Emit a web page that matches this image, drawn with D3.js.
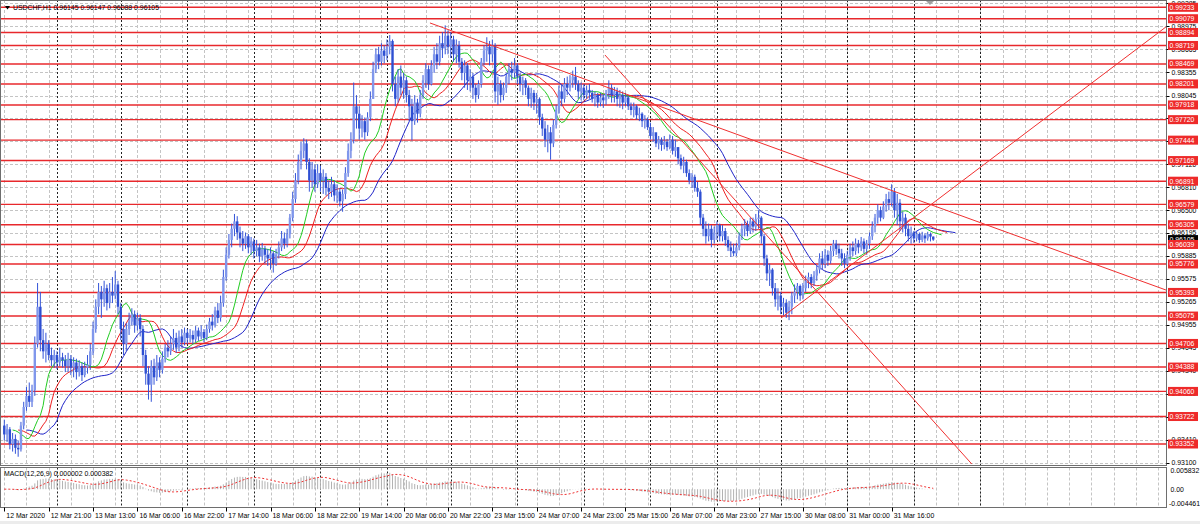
<!DOCTYPE html>
<html><head><meta charset="utf-8">
<script src="https://cdn.jsdelivr.net/npm/d3@7"></script>
<style>html,body{margin:0;padding:0;background:#fff;overflow:hidden}svg{display:block;font-family:"Liberation Sans",Arial,sans-serif}</style>
</head><body>
<svg id="c" width="1200" height="524"></svg>
<script>
// ---------- DATA (prices are quoted ×10 000, e.g. 9348 = 0.93480) ----------
const symbolTitle = "USDCHF,H1";
const lastOHLC = ["0.96145", "0.96147", "0.96088", "0.96105"];
const lastPrice = 9610.5;
const macdTitle = "MACD(12,26,9) 0.000002 0.000382";

const timeLabels = ["12 Mar 2020","12 Mar 21:00","13 Mar 13:00","16 Mar 06:00","16 Mar 22:00","17 Mar 14:00",
  "18 Mar 06:00","18 Mar 22:00","19 Mar 14:00","20 Mar 06:00","20 Mar 22:00","23 Mar 15:00","24 Mar 07:00",
  "24 Mar 23:00","25 Mar 15:00","26 Mar 07:00","26 Mar 23:00","27 Mar 15:00","30 Mar 08:00","31 Mar 00:00","31 Mar 16:00"];
const barsPerLabel = 16;
const daySeparatorBars = [19, 42, 66, 90, 114, 138, 161, 185, 209, 233, 257, 280, 304, 328, 352];

const priceTicks = ["0.93100","0.93410","0.93720","0.94030","0.94340","0.94645","0.94955","0.95265","0.95575",
  "0.95885","0.96195","0.96500","0.96810","0.97120","0.97430","0.97740","0.98045","0.98355","0.98665","0.98975","0.99285"];
const levelLabels = ["0.99233","0.99079","0.98894","0.98719","0.98469","0.98201","0.97918","0.97720","0.97444",
  "0.97169","0.96891","0.96579","0.96305","0.96039","0.95776","0.95393","0.95075","0.94706","0.94388","0.94060",
  "0.93722","0.93352"];
const macdTicks = ["0.005832", "0.00", "-0.004461"];

// trend lines: [bar, price, bar, price]
const trendLines = [
  [153.5, 9902.2, 418.9, 9542.6],
  [216.6, 9859.1, 348.9, 9308.2],
  [280.1, 9504.9, 418.9, 9896.8]
];

const opens = [
9360,9348,9355,9335,9342,9330,9328,9360,9385,9400,
9392,9408,9470,9520,9475,9460,9470,9455,9448,9455,
9445,9452,9448,9440,9450,9438,9445,9432,9440,9428,
9438,9442,9460,9490,9520,9540,9530,9545,9525,9540,
9535,9550,9520,9490,9470,9490,9500,9510,9495,9505,
9490,9455,9430,9415,9440,9425,9445,9435,9450,9465,
9460,9470,9478,9465,9480,9472,9485,9478,9482,9476,
9488,9480,9486,9478,9490,9500,9495,9515,9505,9525,
9560,9590,9610,9625,9635,9620,9612,9605,9615,
9600,9608,9595,9600,9588,9598,9590,9585,9592,9578,
9590,9600,9612,9605,9618,9640,9665,9690,9715,9730,
9740,9715,9690,9705,9685,9700,9690,9695,9680,9675,
9685,9670,9675,9662,9672,9700,9730,9745,9790,9780,
9760,9770,9755,9775,9800,9840,9860,9850,9865,9858,
9870,9878,9820,9800,9830,9815,9825,9805,9790,9770,
9795,9780,9805,9825,9840,9820,9845,9860,9850,9875,
9868,9885,9870,9880,9860,9872,9850,9835,9845,9825,
9830,9815,9805,9820,9850,9865,9870,9860,9872,9810,
9820,9805,9815,9830,9840,9835,9845,9830,9820,
9825,9815,9800,9808,9795,9800,9775,9760,9745,9755,
9740,9765,9785,9810,9800,9820,9815,9825,9830,9820,
9810,9815,9805,9812,9808,9800,9805,9795,9802,9798,
9808,9815,9805,9810,9800,9805,9795,9802,9790,9785,
9790,9778,9780,9770,9772,9762,9750,9755,9740,9745,
9738,9742,9735,9745,9730,9735,9720,9710,9715,9700,
9690,9695,9680,9675,9640,9625,9615,9625,9610,9620,
9630,9615,9622,9610,9600,9595,9592,9600,9615,9625,
9630,9622,9635,9628,9638,9640,9615,9585,9565,9570,
9545,9530,9535,9520,9525,9512,9520,9535,9540,9548,
9535,9545,9555,9560,9552,9562,9570,9585,9578,
9590,9582,9595,9605,9598,9592,9585,9578,9590,9600,
9595,9605,9600,9608,9598,9605,9615,9628,9640,9650,
9640,9655,9665,9660,9675,9650,9660,9635,9640,9625,
9615,9620,9612,9618,9610,9616,9612,9618,9614.5];

const highs = [
9368,9362,9358,9350,9348,9340,9365,9392,9412,9418,
9415,9480,9552,9540,9490,9485,9475,9465,9462,9460,
9465,9458,9455,9458,9455,9452,9450,9448,9445,9446,
9455,9470,9500,9530,9552,9548,9555,9550,9552,9560,
9568,9555,9525,9500,9498,9512,9518,9515,9512,9510,
9495,9462,9440,9448,9450,9455,9452,9460,9470,9475,
9480,9490,9485,9488,9490,9492,9490,9490,9488,9494,
9492,9495,9490,9496,9505,9510,9520,9525,9535,9570,
9600,9618,9632,9645,9642,9628,9622,9620,9618,
9614,9612,9610,9605,9606,9602,9598,9600,9595,9598,
9608,9622,9620,9625,9645,9675,9700,9725,9742,9747,
9745,9720,9715,9712,9712,9710,9705,9700,9690,9695,
9690,9685,9680,9678,9708,9740,9755,9822,9805,9790,
9778,9775,9782,9810,9850,9868,9870,9875,9872,9880,
9886,9880,9830,9840,9845,9835,9830,9812,9800,9805,
9800,9812,9832,9848,9845,9852,9870,9875,9885,9890,
9899,9892,9890,9885,9880,9878,9855,9852,9848,9840,
9835,9820,9825,9855,9872,9883,9878,9880,9875,9830,
9825,9822,9835,9848,9850,9855,9848,9835,9830,
9828,9818,9815,9812,9808,9802,9780,9770,9765,9762,
9772,9792,9818,9820,9828,9830,9832,9838,9843,9825,
9822,9820,9818,9820,9812,9810,9808,9808,9806,9812,
9825,9820,9816,9815,9812,9810,9808,9805,9795,9795,
9792,9788,9782,9778,9775,9768,9762,9752,9750,9748,
9750,9746,9752,9750,9745,9735,9725,9722,9718,9705,
9700,9698,9688,9678,9645,9635,9632,9630,9628,9635,
9632,9630,9626,9615,9608,9605,9606,9620,9632,9638,
9636,9640,9640,9645,9650,9642,9618,9590,9578,9572,
9552,9545,9540,9532,9530,9528,9540,9550,9552,9550,
9552,9562,9566,9564,9568,9575,9592,9595,9598,
9596,9602,9610,9610,9605,9598,9592,9595,9605,9608,
9612,9610,9614,9612,9610,9620,9635,9645,9658,9655,
9662,9672,9675,9685,9680,9672,9665,9648,9645,9632,
9628,9622,9622,9620,9621,9619,9621,9620,9614.7];

const lows = [
9340,9338,9328,9325,9322,9318,9325,9355,9380,9385,
9385,9400,9465,9460,9450,9445,9448,9440,9438,9436,
9440,9438,9432,9432,9428,9425,9422,9426,9420,9425,
9430,9435,9455,9485,9510,9505,9520,9515,9518,9525,
9530,9510,9475,9455,9460,9482,9495,9485,9488,9480,
9440,9415,9395,9392,9415,9420,9425,9430,9445,9452,
9455,9462,9458,9460,9465,9468,9470,9472,9470,9472,
9474,9476,9472,9475,9485,9488,9492,9498,9500,9520,
9555,9585,9600,9615,9610,9600,9595,9598,9592,
9590,9585,9588,9580,9582,9578,9575,9570,9566,9575,
9585,9595,9598,9600,9612,9635,9660,9685,9705,9720,
9705,9675,9680,9675,9680,9675,9672,9670,9665,9668,
9662,9660,9655,9648,9665,9695,9720,9740,9760,9745,
9748,9745,9750,9770,9800,9835,9840,9845,9848,9852,
9860,9810,9790,9795,9805,9800,9795,9770,9744,9765,
9768,9775,9800,9815,9812,9818,9835,9840,9845,9855,
9860,9860,9855,9850,9848,9842,9825,9815,9812,9810,
9800,9795,9800,9815,9845,9850,9845,9850,9795,9792,
9795,9798,9808,9820,9825,9828,9820,9810,9805,
9805,9790,9788,9785,9780,9765,9750,9735,9728,9718,
9735,9760,9780,9790,9795,9805,9810,9815,9812,9800,
9798,9798,9800,9800,9795,9790,9788,9790,9788,9792,
9800,9795,9795,9790,9788,9786,9790,9785,9778,9775,
9772,9770,9762,9760,9758,9745,9742,9735,9732,9730,
9732,9730,9732,9725,9722,9712,9705,9700,9695,9685,
9680,9675,9668,9630,9615,9605,9608,9600,9605,9610,
9608,9608,9602,9595,9587,9588,9588,9596,9610,9615,
9615,9618,9620,9622,9625,9605,9575,9555,9548,9535,
9520,9515,9510,9508,9505,9502,9510,9525,9530,9528,
9530,9540,9545,9545,9548,9555,9565,9570,9572,
9575,9578,9588,9590,9585,9575,9572,9575,9582,9588,
9590,9592,9595,9592,9590,9598,9610,9620,9632,9635,
9638,9648,9650,9655,9640,9630,9622,9620,9615,9608,
9605,9606,9608,9606,9607,9606,9609,9608,9608.8];

const closes = [
9348,9355,9335,9342,9330,9328,9360,9385,9400,9392,
9408,9470,9520,9475,9460,9470,9455,9448,9455,9445,
9452,9448,9440,9450,9438,9445,9432,9440,9428,9438,
9442,9460,9490,9520,9540,9530,9545,9525,9540,9535,
9550,9520,9490,9470,9490,9500,9510,9495,9505,9490,
9455,9430,9415,9440,9425,9445,9435,9450,9465,9460,
9470,9478,9465,9480,9472,9485,9478,9482,9476,9488,
9480,9486,9478,9490,9500,9495,9515,9505,9525,9560,
9590,9610,9625,9635,9620,9612,9605,9615,9600,
9608,9595,9600,9588,9598,9590,9585,9592,9578,9590,
9600,9612,9605,9618,9640,9665,9690,9715,9730,9740,
9715,9690,9705,9685,9700,9690,9695,9680,9675,9685,
9670,9675,9662,9672,9700,9730,9745,9790,9780,9760,
9770,9755,9775,9800,9840,9860,9850,9865,9858,9870,
9878,9820,9800,9830,9815,9825,9805,9790,9770,9795,
9780,9805,9825,9840,9820,9845,9860,9850,9875,9868,
9885,9870,9880,9860,9872,9850,9835,9845,9825,9830,
9815,9805,9820,9850,9865,9870,9860,9872,9810,9820,
9805,9815,9830,9840,9835,9845,9830,9820,9825,
9815,9800,9808,9795,9800,9775,9760,9745,9755,9740,
9765,9785,9810,9800,9820,9815,9825,9830,9820,9810,
9815,9805,9812,9808,9800,9805,9795,9802,9798,9808,
9815,9805,9810,9800,9805,9795,9802,9790,9785,9790,
9778,9780,9770,9772,9762,9750,9755,9740,9745,9738,
9742,9735,9745,9730,9735,9720,9710,9715,9700,9690,
9695,9680,9675,9640,9625,9615,9625,9610,9620,9630,
9615,9622,9610,9600,9595,9592,9600,9615,9625,9630,
9622,9635,9628,9638,9640,9615,9585,9565,9570,9545,
9530,9535,9520,9525,9512,9520,9535,9540,9548,9535,
9545,9555,9560,9552,9562,9570,9585,9578,9590,
9582,9595,9605,9598,9592,9585,9578,9590,9600,9595,
9605,9600,9608,9598,9605,9615,9628,9640,9650,9640,
9655,9665,9660,9675,9650,9660,9635,9640,9625,9615,
9620,9612,9618,9610,9616,9612,9618,9614.5,9610.5];

// ---------- INDICATORS (derived from the candle data) ----------
function smma(src, n){ const out=[]; src.forEach((v,i)=>{ out.push(i===0? v : (out[i-1]*(n-1)+v)/n); }); return out; }
function ema(src, n){ const k=2/(n+1), out=[]; src.forEach((v,i)=>{ out.push(i===0? v : out[i-1]+k*(v-out[i-1])); }); return out; }
const median = highs.map((h,i)=>(h+lows[i])/2);
const alligator = [
  {n:13, shift:8, color:"#1f24c8"},
  {n:8,  shift:5, color:"#ee2020"},
  {n:5,  shift:3, color:"#22cc22"}
].map(a=>({...a, vals: smma(median, a.n)}));
const e12 = ema(closes,12), e26 = ema(closes,26);
const macd = e12.map((v,i)=>v-e26[i]);
const signal = macd.map((v,i)=>{ const s=macd.slice(Math.max(0,i-8),i+1); return d3.mean(s); });

// ---------- LAYOUT ----------
const W=1200, axisX=1166.5, mainTop=0.5, mainBot=465.5, subTop=467.5, subBot=507.5;
const x = d3.scaleLinear().domain([0, 320]).range([4.3, 891.66]);
const y = d3.scaleLinear().domain([9310.0, 9923.3]).range([462.7, 7.3]);
const ym = d3.scaleLinear().domain([-44.61, 58.32]).range([503.5, 470.5]);
const FS = 6.9;
const svg = d3.select("#c");
svg.append("rect").attr("width",W).attr("height",524).attr("fill","#fff");
const defs = svg.append("defs");
defs.append("clipPath").attr("id","cm").append("rect").attr("x",1).attr("y",1).attr("width",axisX-1.5).attr("height",mainBot-1.5);
defs.append("clipPath").attr("id","cs").append("rect").attr("x",1).attr("y",subTop+0.5).attr("width",axisX-1.5).attr("height",subBot-subTop-1);

const main = svg.append("g").attr("clip-path","url(#cm)");
const sub = svg.append("g").attr("clip-path","url(#cs)");

// grid
const gridBars = d3.range(0, 420, 8);
[main, sub].forEach((g,gi)=>{
  g.selectAll("line.vg").data(gridBars).join("line").attr("class","vg")
    .attr("x1",d=>Math.round(x(d))+0.5).attr("x2",d=>Math.round(x(d))+0.5)
    .attr("y1", gi? subTop:0).attr("y2", gi? subBot:mainBot)
    .attr("stroke","#c4c4c4").attr("stroke-dasharray","3,2");
});
main.selectAll("line.hg").data(priceTicks).join("line").attr("class","hg")
  .attr("x1",0).attr("x2",axisX).attr("y1",d=>Math.round(y(+d*1e4))+0.5).attr("y2",d=>Math.round(y(+d*1e4))+0.5)
  .attr("stroke","#c4c4c4").attr("stroke-dasharray","3,2");
// day separators
[main, sub].forEach((g,gi)=>{
  g.selectAll("line.ds").data(daySeparatorBars).join("line").attr("class","ds")
    .attr("x1",d=>Math.round(x(d))+0.5).attr("x2",d=>Math.round(x(d))+0.5)
    .attr("y1", gi? subTop:0).attr("y2", gi? subBot:mainBot)
    .attr("stroke","#222").attr("stroke-dasharray","2,2");
});
// horizontal levels
main.selectAll("line.lv").data(levelLabels).join("line").attr("class","lv")
  .attr("x1",0).attr("x2",axisX).attr("y1",d=>y(+d*1e4)).attr("y2",d=>y(+d*1e4))
  .attr("stroke","#e8282c").attr("stroke-width",1.4);

// alligator
alligator.forEach(a=>{
  const line = d3.line().x((v,i)=>x(i+a.shift)).y(v=>y(v));
  main.append("path").datum(a.vals).attr("d",line).attr("fill","none").attr("stroke",a.color).attr("stroke-width",1);
});

// candles
const cg = main.append("g");
closes.forEach((c,i)=>{
  const o=opens[i], cx=x(i);
  cg.append("line").attr("x1",cx).attr("x2",cx).attr("y1",y(highs[i])).attr("y2",y(lows[i]))
    .attr("stroke","#3454d8").attr("stroke-width",1);
  const top=Math.min(y(o),y(c)), h=Math.max(1,Math.abs(y(o)-y(c)));
  cg.append("rect").attr("x",cx-1.2).attr("y",top).attr("width",2.4).attr("height",h)
    .attr("fill", c>=o ? "#8097ec" : "#2e4fd2");
});

// trend lines
main.selectAll("line.tl").data(trendLines).join("line").attr("class","tl")
  .attr("x1",d=>x(d[0])).attr("y1",d=>y(d[1])).attr("x2",d=>x(d[2])).attr("y2",d=>y(d[3]))
  .attr("stroke","#f03030").attr("stroke-width",1);

// MACD
sub.selectAll("line.h").data(macd).join("line").attr("class","h")
  .attr("x1",(d,i)=>x(i)).attr("x2",(d,i)=>x(i)).attr("y1",ym(0)).attr("y2",d=>ym(d))
  .attr("stroke","#b2b2b2").attr("stroke-width",1);
sub.append("path").datum(signal).attr("d",d3.line().x((v,i)=>x(i)).y(v=>ym(v)))
  .attr("fill","none").attr("stroke","#f03030").attr("stroke-width",1).attr("stroke-dasharray","2,2");

// frames
svg.append("rect").attr("x",0.5).attr("y",mainTop).attr("width",axisX-0.5).attr("height",mainBot-mainTop)
  .attr("fill","none").attr("stroke","#6e6e6e");
svg.append("rect").attr("x",0.5).attr("y",subTop).attr("width",axisX-0.5).attr("height",subBot-subTop)
  .attr("fill","none").attr("stroke","#6e6e6e");
svg.append("rect").attr("x",0).attr("y",521).attr("width",W).attr("height",3).attr("fill","#ececec");
// chart shift marker
svg.append("path").attr("d","M926,1L934,1L930,5Z").attr("fill","#a0a0a0");

// header
svg.append("path").attr("d","M5,6L10,6L7.5,9.5Z").attr("fill","#000");
svg.append("text").attr("x",13).attr("y",10).attr("font-size",FS).attr("fill","#000")
  .text(symbolTitle + "  " + lastOHLC.join(" "));
svg.append("text").attr("x",4).attr("y",476).attr("font-size",FS).attr("fill","#000").text(macdTitle);

// price axis labels
const ax = svg.append("g");
ax.selectAll("line.tk").data(priceTicks).join("line").attr("class","tk")
  .attr("x1",axisX).attr("x2",axisX+3).attr("y1",d=>Math.round(y(+d*1e4))+0.5).attr("y2",d=>Math.round(y(+d*1e4))+0.5).attr("stroke","#000");
ax.selectAll("text.tk").data(priceTicks).join("text").attr("class","tk")
  .attr("x",axisX+5).attr("y",d=>y(+d*1e4)+2.4).attr("font-size",FS).attr("fill","#000").text(d=>d);
// current price box
ax.append("rect").attr("x",axisX+1.5).attr("y",y(lastPrice)-4.5).attr("width",30).attr("height",9).attr("fill","#000");
ax.append("text").attr("x",axisX+3).attr("y",y(lastPrice)+2.4).attr("font-size",FS).attr("fill","#fff").text(lastOHLC[3]);
// level boxes
const lb = ax.selectAll("g.lb").data(levelLabels).join("g").attr("class","lb");
lb.append("rect").attr("x",axisX+1.5).attr("y",d=>y(+d*1e4)-4.5).attr("width",30).attr("height",9).attr("fill","#ee2a2a");
lb.append("text").attr("x",axisX+3).attr("y",d=>y(+d*1e4)+2.4).attr("font-size",FS).attr("fill","#fff").text(d=>d);
// macd axis
ax.selectAll("text.mt").data(macdTicks).join("text").attr("class","mt")
  .attr("x",d=>d.startsWith("-")? axisX+2.5 : axisX+4).attr("y",d=>ym(+d*1e4)+2.4).attr("font-size",FS).attr("fill","#000").text(d=>d);

// time axis
const tb = timeLabels.map((t,k)=>({t, bar:k*barsPerLabel}));
svg.selectAll("line.tt").data(tb).join("line").attr("class","tt")
  .attr("x1",d=>Math.round(x(d.bar))+0.5).attr("x2",d=>Math.round(x(d.bar))+0.5).attr("y1",subBot).attr("y2",subBot+4).attr("stroke","#000");
svg.selectAll("text.tt").data(tb).join("text").attr("class","tt")
  .attr("x",d=>x(d.bar)+2).attr("y",518).attr("font-size",FS).attr("fill","#000").text(d=>d.t);
</script>
</body></html>
